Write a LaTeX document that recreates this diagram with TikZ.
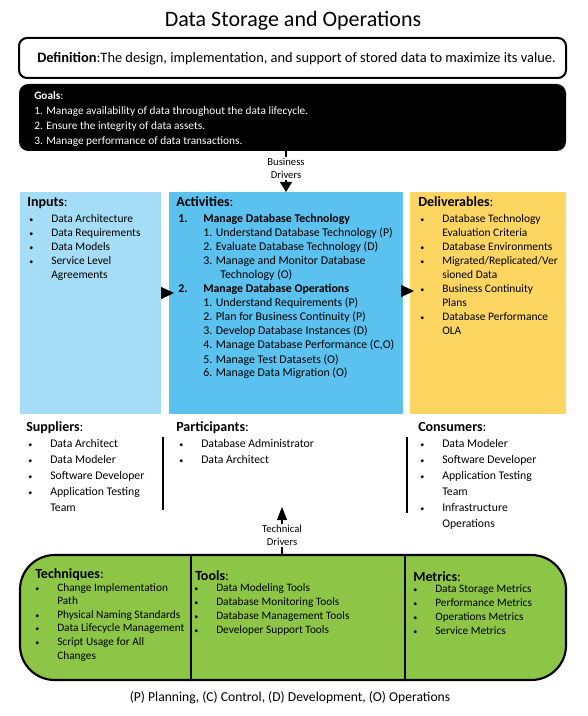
\documentclass[tikz,border=0pt]{standalone}
\usepackage{fontspec}
\setmainfont{Carlito}
\usetikzlibrary{arrows.meta,fit}
\definecolor{inblue}{HTML}{A6DDF6}
\definecolor{actblue}{HTML}{5BC1EF}
\definecolor{delyel}{HTML}{FDD662}
\definecolor{grn}{HTML}{8DC646}
\newcommand{\bl}[1]{\makebox[16.5pt][l]{\fontsize{6}{6}\selectfont\textbullet}#1}
\newcommand{\hg}[1]{\hspace*{16.5pt}#1}

\begin{document}
\begin{tikzpicture}[x=0.75pt,y=-0.75pt,
  panel/.style={inner sep=0pt, outer sep=0pt},
  head/.style={anchor=base west, inner sep=0pt, font=\fontsize{10.5}{12}\selectfont},
  lst/.style={anchor=base west, inner sep=0pt, font=\fontsize{8.6}{10.5}\selectfont},
  lstb/.style={anchor=base west, inner sep=0pt, font=\fontsize{8.8}{12}\selectfont},
  lstg/.style={anchor=base west, inner sep=0pt, font=\fontsize{8.5}{10.2}\selectfont},
  drv/.style={fill=white, inner sep=1pt, align=center, font=\fontsize{8}{9.75}\selectfont},
  tri/.style={-{Triangle[length=9.75pt,width=9pt]}, line width=0.8pt},
  vsep/.style={line width=1.1pt},
]
\useasboundingbox (0,0) rectangle (587,716);
% title
\node[anchor=base, inner sep=0pt, font=\fontsize{16.5}{18}\selectfont] (title) at (293,27) {Data Storage and Operations};
% definition and goals
\node[panel, draw, line width=1.5pt, rounded corners=6pt, fit={(19,38) (566,78)}] (def) {};
\node[anchor=base west, inner sep=0pt, font=\fontsize{10.8}{12}\selectfont] (deftxt) at (37,63) {\textbf{Definition}:The design, implementation, and support of stored data to maximize its value.};
\node[panel, fill=black, rounded corners=7pt, fit={(19,84) (566,151)}] (goals) {};
\node[lst, text=white, font=\fontsize{8.5}{11.25}\selectfont] (goaltxt) at (34,100) {\begin{tabular}[t]{@{}l@{}}
\textbf{Goals}:\\
1. Manage availability of data throughout the data lifecycle.\\
2. Ensure the integrity of data assets.\\
3. Manage performance of data transactions.
\end{tabular}};
% main panels
\node[panel, fill=inblue, fit={(20,192) (161,414)}] (inp) {};
\node[panel, fill=actblue, fit={(169,192) (403,414)}] (act) {};
\node[panel, fill=delyel, fit={(410,192) (566,414)}] (del) {};
\node[head] (inph) at (27,207) {\textbf{Inputs}:};
\node[lst] (inpl) at (29,223) {\begin{tabular}[t]{@{}l@{}}
\bl{Data Architecture}\\ \bl{Data Requirements}\\ \bl{Data Models}\\ \bl{Service Level}\\ \hg{Agreements}
\end{tabular}};
\node[head] (acth) at (176,207) {\textbf{Activities}:};
\node[lst, font=\fontsize{8.9}{10.5}\selectfont] (actl) at (178,223) {\begin{tabular}[t]{@{}p{18.75pt}@{}l@{}}
\textbf{1.} & \textbf{Manage Database Technology}\\
 & 1. Understand Database Technology (P)\\
 & 2. Evaluate Database Technology (D)\\
 & 3. Manage and Monitor Database\\
 & \hspace*{12.75pt}Technology (O)\\
\textbf{2.} & \textbf{Manage Database Operations}\\
 & 1. Understand Requirements (P)\\
 & 2. Plan for Business Continuity (P)\\
 & 3. Develop Database Instances (D)\\
 & 4. Manage Database Performance (C,O)\\
 & 5. Manage Test Datasets (O)\\
 & 6. Manage Data Migration (O)
\end{tabular}};
\node[head] (delh) at (418,207) {\textbf{Deliverables}:};
\node[lst] (dell) at (420,223) {\begin{tabular}[t]{@{}l@{}}
\bl{Database Technology}\\ \hg{Evaluation Criteria}\\ \bl{Database Environments}\\ \bl{Migrated/Replicated/Ver}\\ \hg{sioned Data}\\ \bl{Business Continuity}\\ \hg{Plans}\\ \bl{Database Performance}\\ \hg{OLA}
\end{tabular}};
% panel arrows
\draw[tri] ([yshift=7.5pt]inp.east) -- ([yshift=7.5pt, xshift=3.75pt]act.west);
\draw[tri] ([yshift=9pt, xshift=-0.75pt]act.east) -- ([yshift=9pt, xshift=3pt]del.west);
% drivers
\draw[-{Triangle[length=7.5pt,width=9pt]}, line width=0.8pt] (goals.south -| act.north) -- node[drv, pos=0.43] (bd) {Business\\Drivers} (act.north);
\coordinate (tdtip) at (282,507);
% suppliers, participants, consumers
\node[head] (suph) at (26,431) {\textbf{Suppliers}:};
\node[lstb] (supl) at (28,447) {\begin{tabular}[t]{@{}l@{}}
\bl{Data Architect}\\ \bl{Data Modeler}\\ \bl{Software Developer}\\ \bl{Application Testing}\\ \hg{Team}
\end{tabular}};
\node[head] (parh) at (176,431) {\textbf{Participants}:};
\node[lstb] (parl) at (179,447) {\begin{tabular}[t]{@{}l@{}}
\bl{Database Administrator}\\ \bl{Data Architect}
\end{tabular}};
\node[head] (conh) at (418,431) {\textbf{Consumers}:};
\node[lstb] (conl) at (420,447) {\begin{tabular}[t]{@{}l@{}}
\bl{Data Modeler}\\ \bl{Software Developer}\\ \bl{Application Testing}\\ \hg{Team}\\ \bl{Infrastructure}\\ \hg{Operations}
\end{tabular}};
\draw[vsep] (163,437) -- (163,510);
\draw[vsep] (407,437) -- (407,513);
% techniques, tools, metrics
\node[panel, fill=grn, draw, line width=1.6pt, rounded corners=26pt, fit={(20,555) (566,680)}] (tech) {};
\draw[vsep, line width=1.6pt] (191,555) -- (191,680);
\draw[vsep, line width=1.6pt] (405,555) -- (405,680);
\draw[-{Triangle[length=9.75pt,width=7.5pt]}, line width=0.8pt] (tech.north -| tdtip) -- node[drv, pos=0.4] (td) {Technical\\Drivers} (tdtip);
\node[head] (techh) at (35,578) {\textbf{Techniques}:};
\node[lstg] (techl) at (35,591) {\begin{tabular}[t]{@{}l@{}}
\bl{Change Implementation}\\ \hg{Path}\\ \bl{Physical Naming Standards}\\ \bl{Data Lifecycle Management}\\ \bl{Script Usage for All}\\ \hg{Changes}
\end{tabular}};
\node[head] (toolh) at (195,580) {\textbf{Tools}:};
\node[lstg, font=\fontsize{8.5}{10.5}\selectfont] (tooll) at (194,591) {\begin{tabular}[t]{@{}l@{}}
\bl{Data Modeling Tools}\\ \bl{Database Monitoring Tools}\\ \bl{Database Management Tools}\\ \bl{Developer Support Tools}
\end{tabular}};
\node[head] (meth) at (413,581) {\textbf{Metrics}:};
\node[lstg, font=\fontsize{8.5}{10.5}\selectfont] (metl) at (413,592) {\begin{tabular}[t]{@{}l@{}}
\bl{Data Storage Metrics}\\ \bl{Performance Metrics}\\ \bl{Operations Metrics}\\ \bl{Service Metrics}
\end{tabular}};
% legend
\node[anchor=base, inner sep=0pt, font=\fontsize{10.2}{12}\selectfont] (legend) at (290,701) {(P) Planning, (C) Control, (D) Development, (O) Operations};
\end{tikzpicture}
\end{document}
